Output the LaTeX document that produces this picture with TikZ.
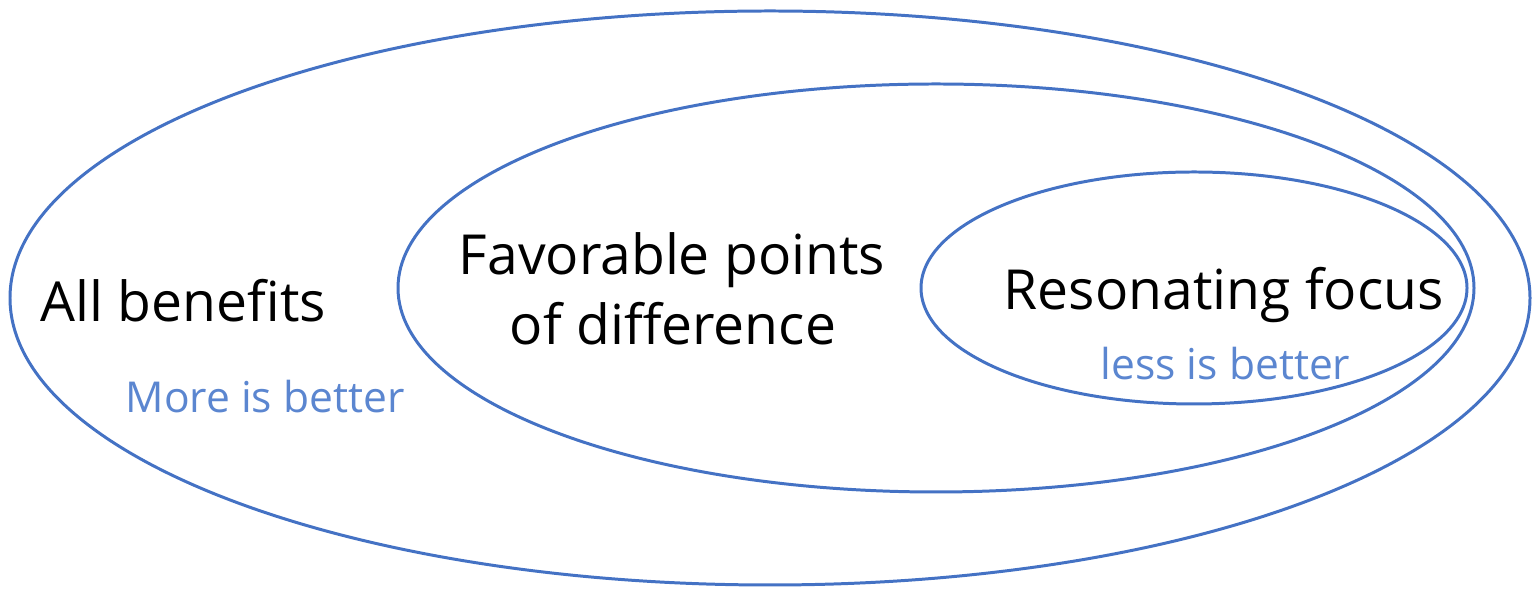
\documentclass[tikz,border=0pt]{standalone}
\usepackage{fontspec}
\setmainfont{Open Sans}
\definecolor{eblue}{HTML}{4472C4}
\definecolor{tblue}{HTML}{5B86D0}
\begin{document}
\begin{tikzpicture}[x=0.01cm,y=-0.01cm,
  ring/.style={draw=eblue,line width=0.85pt},
  big/.style={font=\fontsize{15.7}{20}\selectfont,text=black,inner sep=0pt},
  small/.style={font=\fontsize{12.1}{15}\selectfont,text=tblue,inner sep=0pt}]
\useasboundingbox (0,0) rectangle (1533,589);
\draw[ring] (770,298) ellipse [x radius=760,y radius=287];
\draw[ring] (936,288) ellipse [x radius=538,y radius=204];
\draw[ring] (1194,288) ellipse [x radius=273,y radius=116];
\node[big,anchor=base west] (all) at (40,322) {All benefits};
\node[small,anchor=base west] (more) at (125,413) {More is better};
\node[big,anchor=base] (fav) at (672,275) {Favorable points};
\node[big,anchor=base] (diff) at (673,345) {of difference};
\node[big,anchor=base west] (res) at (1003,310) {Resonating focus};
\node[small,anchor=base west] (less) at (1100,380) {less is better};
\end{tikzpicture}
\end{document}
